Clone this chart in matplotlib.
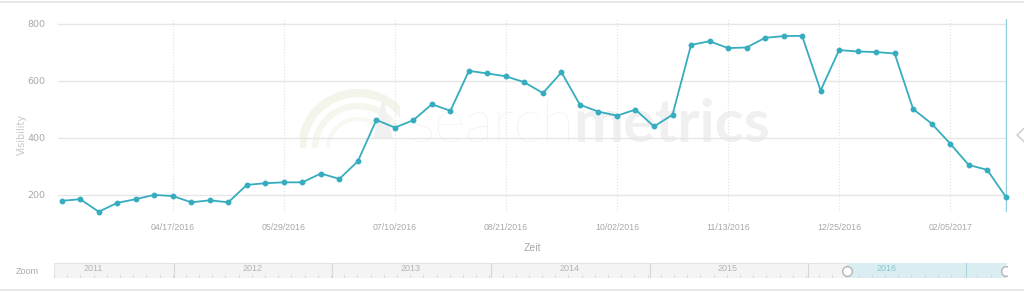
import numpy as np
import pandas as pd
import matplotlib.pyplot as plt
import matplotlib.dates as mdates
from matplotlib.patches import Rectangle, Arc
from matplotlib.lines import Line2D

# weekly visibility values, starting 03/06/2016
start = '2016-03-06'
visibility = [179, 185, 141, 172, 185, 200, 196, 174, 181, 174,
              235, 241, 244, 244, 275, 256, 318, 463, 436, 462,
              518, 495, 635, 626, 616, 595, 557, 630, 516, 492,
              478, 499, 440, 481, 726, 739, 715, 717, 751, 757,
              758, 566, 708, 703, 701, 696, 501, 450, 380, 305,
              288, 194]
dates = pd.date_range(start, periods=len(visibility), freq='7D')
tick_dates = pd.date_range('2016-04-17', periods=8, freq='42D')
years = ['2011', '2012', '2013', '2014', '2015', '2016']

W, H = 1024, 292
fig = plt.figure(figsize=(W / 100, H / 100), dpi=100)

def box(x0, y0, x1, y1):
    # pixel box (top-left origin) -> figure fraction
    return [x0 / W, 1 - y1 / H, (x1 - x0) / W, (y1 - y0) / H]

line_col = '#35adbf'
grey_txt = '#a8a8a8'
narrow = ['Liberation Sans Narrow', 'Liberation Sans', 'DejaVu Sans']

# top / bottom frame lines
fig.add_artist(Line2D([0, 1], [1 - 1.5 / H] * 2, color='#e8e8e8', lw=1.5))
fig.add_artist(Line2D([0, 1], [1 - 290 / H] * 2, color='#e8e8e8', lw=1.5))

# watermark (behind the chart)
fig.text(410 / W, 1 - 142 / H, 'search', fontsize=43, color='#efeff1',
         family=['Lato', 'DejaVu Sans'], weight='light', va='baseline', zorder=0)
fig.text(573 / W, 1 - 142 / H, 'metrics', fontsize=43, color='#f0f0f1',
         family=['Lato', 'DejaVu Sans'], weight='bold', va='baseline', zorder=0)
logo = fig.add_axes(box(300, 88, 400, 148), zorder=0)
logo.set_xlim(0, 100)
logo.set_ylim(0, 60)
logo.axis('off')
for i, c in enumerate(['#f3f4ea', '#f5f6ee', '#f7f8f2']):
    logo.add_patch(Arc((58, 0), 112 - i * 26, 110 - i * 26, theta1=30, theta2=180,
                       color=c, lw=6 - i * 1.5))
logo.fill([74, 83, 92], [10, 48, 10], color='#f1f1f2')

# main chart
ax = fig.add_axes(box(58, 19, 1007, 212), zorder=2)
ax.patch.set_alpha(0)
ax.plot(dates, visibility, color=line_col, lw=1.3, marker='o', ms=3.2,
        zorder=3, clip_on=False)
ax.axvline(dates[-1], color='#8ccfdb', lw=1, zorder=2)
ax.set_ylim(140, 817)
ax.set_xlim(dates[0] - pd.Timedelta(days=1.4), dates[-1] + pd.Timedelta(days=0.5))
ax.set_yticks([200, 400, 600, 800])
ax.set_xticks(tick_dates)
ax.xaxis.set_major_formatter(mdates.DateFormatter('%m/%d/%Y'))
ax.grid(axis='y', color='#e6e6e6', lw=1)
ax.grid(axis='x', color='#e2e2e2', lw=0.8, ls=':')
ax.set_axisbelow(True)
for s in ax.spines.values():
    s.set_visible(False)
ax.tick_params(length=0, labelsize=6.3, labelcolor=grey_txt, pad=8)
for lbl in ax.get_xticklabels():
    lbl.set_family(narrow)
ax.tick_params(axis='y', labelsize=6.8, pad=9)
ax.set_xlabel('Zeit', fontsize=7.5, color=grey_txt, family=narrow, labelpad=8)
ax.set_ylabel('Visibility', fontsize=7, color='#c8c8c8')
ax.yaxis.set_label_coords(-31 / 949, 0.4)

# right side arrow
fig.add_artist(Line2D([1024.5 / W, 1017 / W, 1024.5 / W],
                      [1 - 128 / H, 1 - 135 / H, 1 - 142 / H],
                      color='#cccccc', lw=1))

# navigator
fig.text(27 / W, 1 - 272 / H, 'Zoom', fontsize=6.5, color=grey_txt,
         family=narrow, ha='center', va='center')
nav = fig.add_axes(box(54, 263, 1007, 278), zorder=2)
nav.set_xlim(54, 1007)
nav.set_ylim(0, 1)
nav.axis('off')
nav.add_patch(Rectangle((54, 0), 953, 1, fc='#f4f4f4', ec='#e4e4e4', lw=0.8))
nav.add_patch(Rectangle((847, 0), 159, 1, fc='#daeef2', ec='none'))
divs = [174, 332, 491, 650, 808, 966]
year_x = [93, 253, 411, 570, 728, 887]
for d in divs:
    nav.plot([d, d], [0, 1], color='#d6d6d6', lw=0.8)
nav.lines[-1].set_color('#a6d8e0')
for i, y in enumerate(years):
    nav.text(year_x[i], 0.65, y, fontsize=6.5, color='#b4b4b4' if i < 5 else '#85c6d2',
             family=narrow, ha='center', va='center')
for m in np.arange(54, 1007, 158.3 / 12):
    nav.plot([m, m], [0, 0.18], color='#cfcfcf', lw=0.5)
nav.plot([847], [0.5], marker='o', ms=7, mfc='white', mec='#b5b5b5', mew=1,
         clip_on=False)
nav.plot([1006], [0.5], marker='o', ms=7, mfc='white', mec='#b5b5b5', mew=1)

fig.savefig('out.png', dpi=100)
